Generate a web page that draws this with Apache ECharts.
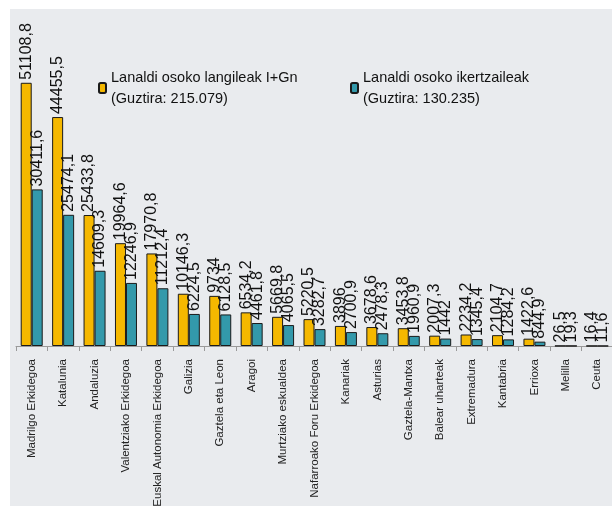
<!DOCTYPE html>
<html>
<head>
<meta charset="utf-8">
<script src="https://cdn.jsdelivr.net/npm/echarts@6/dist/echarts.min.js"></script>
<style>
html,body{margin:0;padding:0;background:#fff;}
#c{width:612px;height:506px;}
</style>
</head>
<body>
<div id="c"></div>
<script>
const categories = ["Madrilgo Erkidegoa","Katalunia","Andaluzia","Valentziako Erkidegoa","Euskal Autonomia Erkidegoa","Galizia","Gaztela eta Leon","Aragoi","Murtziako eskualdea","Nafarroako Foru Erkidegoa","Kanariak","Asturias","Gaztela-Mantxa","Balear uharteak","Extremadura","Kantabria","Errioxa","Melilla","Ceuta"];
const langileak = [51108.8,44455.5,25433.8,19964.6,17970.8,10146.3,9734,6534.2,5669.8,5220.5,3896,3678.6,3453.8,2007.3,2234.2,2104.7,1422.6,26.5,16.4];
const ikertzaileak = [30411.6,25474.1,14609.3,12246.9,11212.4,6224.5,6128.5,4461.8,4065.5,3282.7,2700.9,2478.3,1960.9,1442,1345.4,1284.2,844.9,19.3,11.6];
const seriesNames = ["Lanaldi osoko langileak I+Gn\n(Guztira: 215.079)","Lanaldi osoko ikertzaileak\n(Guztira: 130.235)"];

const chart = echarts.init(document.getElementById('c'), null, {renderer:'canvas'});
const labelCfg = {
  show:true, position:'top', rotate:90, align:'left', verticalAlign:'middle', distance:3,
  fontFamily:'Liberation Sans, Arial, sans-serif', fontSize:16, color:'#111',
  formatter: p => String(p.value).replace('.', ',')
};
const legendText = {fontFamily:"'Liberation Sans', Arial, sans-serif", fontSize:14.5, lineHeight:21, color:'#111'};
chart.setOption({
  backgroundColor:'#ffffff',
  animation:false,
  graphic:[{type:'rect', z:-10, silent:true, shape:{x:10,y:9,width:602,height:497}, style:{fill:'#e9ebee'}}],
  legend:[
    {data:[seriesNames[0]], left:93, top:62, orient:'vertical', itemWidth:7, itemHeight:10, itemGap:6, textStyle:legendText},
    {data:[seriesNames[1]], left:345, top:62, orient:'vertical', itemWidth:7, itemHeight:10, itemGap:6, textStyle:legendText}
  ],
  grid:{left:16, width:597, top:37, bottom:160, containLabel:false, outerBoundsMode:'none'},
  xAxis:{
    type:'category', data:categories,
    axisLine:{lineStyle:{color:'#9a9a9a', width:1}},
    axisTick:{show:true, length:5, lineStyle:{color:'#9a9a9a'}},
    axisLabel:{rotate:90, interval:0, margin:13, fontFamily:'Liberation Sans, Arial, sans-serif', fontSize:11.5, color:'#222'}
  },
  yAxis:{type:'value', min:0, max:60000, show:false, splitLine:{show:false}},
  series:[
    {name:seriesNames[0], type:'bar', data:langileak, barWidth:11, barGap:'0%',
     itemStyle:{color:'#f5b800', borderColor:'#1a1a1a', borderWidth:1}, label:labelCfg},
    {name:seriesNames[1], type:'bar', data:ikertzaileak, barWidth:11, barGap:'0%',
     itemStyle:{color:'#3399ab', borderColor:'#1a1a1a', borderWidth:1}, label:labelCfg}
  ]
});
</script>
</body>
</html>
